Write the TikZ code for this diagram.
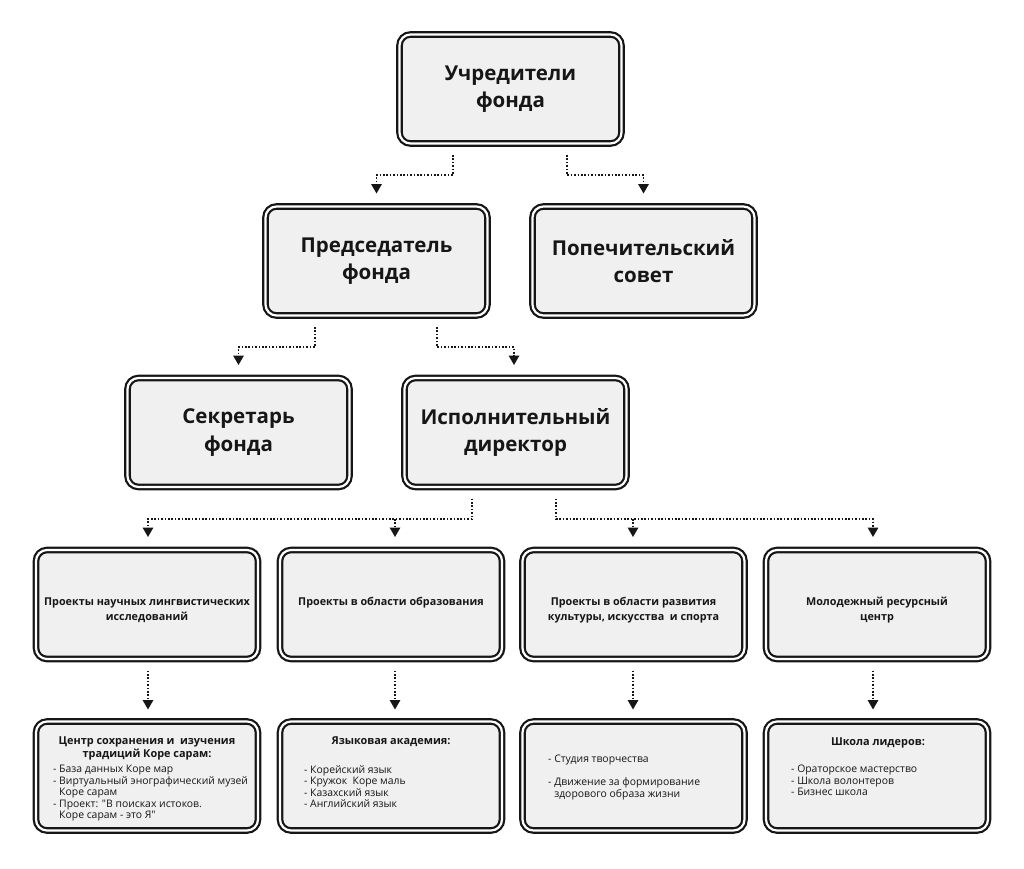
\documentclass[tikz,border=0pt]{standalone}
\usepackage{fontspec}
\setmainfont{Open Sans}[Ligatures=TeXOff]
\usetikzlibrary{arrows.meta,calc}
\definecolor{boxfill}{HTML}{F0F0F0}
\definecolor{ink}{HTML}{161616}
\begin{document}
\begin{tikzpicture}[x=1pt,y=-1pt,
  box/.style={draw=ink, line width=2.2pt, double=white, double distance=2.2pt,
    fill=boxfill, rounded corners=11pt, minimum width=222pt, minimum height=109pt,
    inner sep=0pt, outer sep=0pt, align=center, text=ink},
  bigtxt/.style={font=\fontsize{20.5}{27.5}\selectfont\bfseries},
  t4/.style={inner sep=0pt, align=center, text=ink, font=\fontsize{10.8}{15}\selectfont\bfseries},
  head5/.style={inner sep=0pt, align=center, text=ink, font=\fontsize{10.9}{12.3}\selectfont\bfseries},
  list5/.style={inner sep=0pt, align=left, text=ink, font=\fontsize{10.4}{11.5}\selectfont},
  conn/.style={draw=ink, line width=1.6pt, dash pattern=on 1.6pt off 1.8pt,
    -{Triangle[width=10.5pt,length=9.5pt]}}
]
\fill[white] (0,0) rectangle (1024,868);
\useasboundingbox (0,0) rectangle (1024,868);

% level 1-3
\node[box, bigtxt] (ucr) at (510.5,89) {Учредители\\фонда};
\node[box, bigtxt] (pred) at (376.5,261) {Председатель\\фонда};
\node[box, bigtxt] (pop) at (643.5,261) {Попечительский\\совет};
\node[box, bigtxt] (sekr) at (238.5,432.5) {Секретарь\\фонда};
\node[box, bigtxt] (isp) at (515.5,432.5) {Исполнительный\\директор};

% level 4
\node[box] (p1) at (147,604.5) {};
\node[box] (p2) at (391,604.5) {};
\node[box] (p3) at (633.5,604.5) {};
\node[box] (p4) at (877,604.5) {};
\node[t4, anchor=north] (l1) at (147,597.3) {Проекты научных лингвистических\\исследований};
\node[t4, anchor=north] (l2) at (391,597.3) {Проекты в области образования};
\node[t4, anchor=north] (l3) at (633.5,597.3) {Проекты в области развития\\культуры, искусства\ \ и спорта};
\node[t4, anchor=north] (l4) at (877,597.3) {Молодежный ресурсный\\центр};

% level 5
\node[box] (q1) at (147,776) {};
\node[box] (q2) at (391,776) {};
\node[box] (q3) at (633.5,776) {};
\node[box] (q4) at (877,776) {};
\node[head5, anchor=north] (h1) at (147,737) {Центр сохранения и\ \ изучения\\традиций Коре сарам:};
\node[list5, anchor=north west] (s1) at (53,765.2) {- База данных Коре мар\\- Виртуальный энографический музей\\\phantom{- }Коре сарам\\- Проект: "В поисках истоков.\\\phantom{- }Коре сарам - это Я"};
\node[head5, anchor=north] (h2) at (391,737) {Языковая академия:};
\node[list5, anchor=north west] (s2) at (304,765.2) {- Корейский язык\\- Кружок\ \ Коре маль\\- Казахский язык\\- Английский язык};
\node[list5, anchor=north west] (s3) at (548,755.2) {- Студия творчества\\[11.5pt]- Движение за формирование\\\phantom{- }здорового образа жизни};
\node[head5, anchor=north] (h4) at (878,737.5) {Школа лидеров:};
\node[list5, anchor=north west] (s4) at (791,764.9) {- Ораторское мастерство\\- Школа волонтеров\\- Бизнес школа};

% connectors level 1 -> 2
\draw[conn] ($(ucr.south)+(-57.5,11.5)$) -- ++(0,20) -| ($(pred.north)+(0,-13)$);
\draw[conn] ($(ucr.south)+(56.5,11.5)$) -- ++(0,20) -| ($(pop.north)+(0,-13)$);
% level 2 -> 3
\draw[conn] ($(pred.south)+(-61.5,11.5)$) -- ++(0,20) -| ($(sekr.north)+(0,-13)$);
\draw[conn] ($(pred.south)+(60.5,11.5)$) -- ++(0,20) -| ($(isp.north)+(-1.5,-13)$);
% level 3 -> 4
\coordinate (j2) at ($(p2.north)+(4,-31)$);
\coordinate (j3) at ($(p3.north)+(-0.5,-31)$);
\draw[conn] ($(isp.south)+(-43.5,11.5)$) -- ++(0,20.5) -| ($(p1.north)+(1,-13)$);
\draw[conn] (j2) -- ($(p2.north)+(4,-13)$);
\draw[conn] ($(isp.south)+(40.5,11.5)$) -- ++(0,20.5) -| ($(p4.north)+(-4,-13)$);
\draw[conn] (j3) -- ($(p3.north)+(-0.5,-13)$);
% level 4 -> 5
\draw[conn] ($(p1.south)+(1,11.5)$) -- ($(q1.north)+(1,-12)$);
\draw[conn] ($(p2.south)+(4,11.5)$) -- ($(q2.north)+(4,-12)$);
\draw[conn] ($(p3.south)+(-0.5,11.5)$) -- ($(q3.north)+(-0.5,-12)$);
\draw[conn] ($(p4.south)+(-4,11.5)$) -- ($(q4.north)+(-4,-12)$);
\end{tikzpicture}
\end{document}
